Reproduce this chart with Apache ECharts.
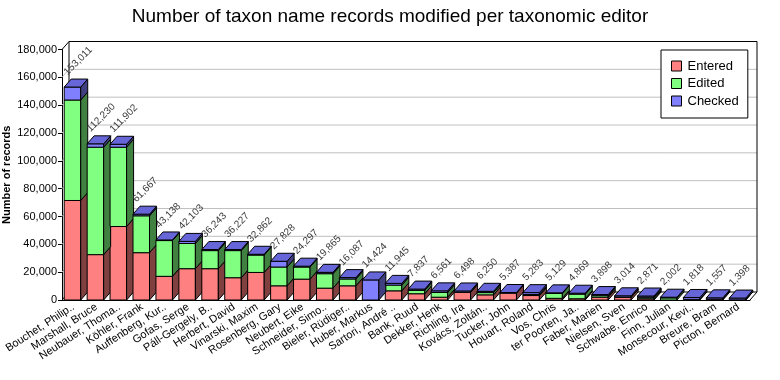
<!DOCTYPE html>
<html>
<head>
<meta charset="utf-8">
<script src="https://cdn.jsdelivr.net/npm/echarts@6/dist/echarts.min.js"></script>
<style>html,body{margin:0;padding:0;background:#fff}#c{width:780px;height:380px}</style>
</head>
<body>
<div id="c"></div>
<script>
const categories = ["Bouchet, Philip..","Marshall, Bruce","Neubauer, Thoma..","Köhler, Frank","Auffenberg, Kur..","Gofas, Serge","Páll-Gergely, B..","Herbert, David","Vinarski, Maxim","Rosenberg, Gary","Neubert, Eike","Schneider, Simo..","Bieler, Rüdiger..","Huber, Markus","Sartori, André ..","Bank, Ruud","Dekker, Henk","Richling, Ira","Kovács, Zoltán..","Tucker, John","Houart, Roland","Vos, Chris","ter Poorten, Ja..","Faber, Marien","Nielsen, Sven","Schwabe, Enrico","Finn, Julian","Monsecour, Kevi..","Breure, Bram","Picton, Bernard"];
const entered = [71500,32600,52800,34000,17000,22500,22500,16000,19800,10200,15000,8500,10200,0,6600,4500,2000,5500,3700,4900,3200,1200,900,2000,2000,900,0,500,600,100];
const edited  = [72200,77200,57000,26500,25700,18100,13000,19500,12500,13500,8700,10400,4900,0,4100,2400,3400,100,1600,0,700,3500,3300,1100,100,1100,1500,0,0,0];
const checked = [9311,2430,2102,1167,438,1503,743,727,562,4128,597,965,987,14424,1245,937,1161,898,950,487,1383,429,669,798,914,871,502,1318,957,1298];
const totals  = [153011,112230,111902,61667,43138,42103,36243,36227,32862,27828,24297,19865,16087,14424,11945,7837,6561,6498,6250,5387,5283,5129,4869,3898,3014,2871,2002,1818,1557,1398];
const yTicks  = [0,20000,40000,60000,80000,100000,120000,140000,160000,180000];

const FONT = '"Liberation Sans", Arial, sans-serif';
const DX = 7, DY = 8;
const segs = [
  {name:'Entered', vals: entered, front:'#FF8080', side:'#804040', top:'#CC6666'},
  {name:'Edited',  vals: edited,  front:'#80FF80', side:'#408040', top:'#66CC66'},
  {name:'Checked', vals: checked, front:'#8080FF', side:'#404080', top:'#6666D8'}
];
const fmt = v => v.toLocaleString('en-US');

function segSeries(k) {
  const s = segs[k];
  const data = categories.map((c, i) => {
    let base = 0;
    for (let j = 0; j < k; j++) base += segs[j].vals[i];
    return [i, base, base + s.vals[i]];
  });
  return {
    type: 'custom', name: s.name, clip: false,
    itemStyle: {color: s.front},
    data: data,
    renderItem: function (params, api) {
      const i = api.value(0), b = api.value(1), t = api.value(2);
      if (t <= b) return {type: 'group', children: []};
      const pb = api.coord([i, b]), pt = api.coord([i, t]);
      const w = api.size([1, 0])[0] * 0.72;
      const x0 = pb[0] - w / 2 - 1, x1 = x0 + w;
      const yb = pb[1], yt = pt[1];
      const st = {stroke: '#000', lineWidth: 1};
      const ch = [
        {type: 'rect', shape: {x: x0, y: yt, width: w, height: yb - yt}, style: Object.assign({fill: s.front}, st)},
        {type: 'polygon', shape: {points: [[x1, yb], [x1 + DX, yb - DY], [x1 + DX, yt - DY], [x1, yt]]}, style: Object.assign({fill: s.side}, st)}
      ];
      let isTop = true;
      for (let j = k + 1; j < segs.length; j++) if (segs[j].vals[i] > 0) isTop = false;
      if (isTop) {
        ch.push({type: 'polygon', shape: {points: [[x0, yt], [x1, yt], [x1 + DX, yt - DY], [x0 + DX, yt - DY]]}, style: Object.assign({fill: s.top}, st)});
        ch.push({type: 'text', x: x0 + 5, y: yt - DY - 2, rotation: Math.PI / 4,
          style: {text: fmt(totals[i]), fill: '#3a3a3a', font: '10px ' + FONT, align: 'left', verticalAlign: 'bottom'}});
      }
      return {type: 'group', children: ch};
    }
  };
}

const wallSeries = {
  type: 'custom', name: 'wall', clip: false, silent: true, legendHoverLink: false,
  data: yTicks.map(v => [0, v]),
  renderItem: function (params, api) {
    const cs = params.coordSys;
    const v = api.value(1);
    const y = api.coord([0, v])[1];
    const y0 = api.coord([0, 0])[1];
    const edge = (v === yTicks[0] || v === yTicks[yTicks.length - 1]);
    const col = edge ? '#000' : '#C0C0C0';
    const ch = [
      {type: 'line', shape: {x1: cs.x + DX, y1: y - DY, x2: cs.x + cs.width + DX, y2: y - DY}, style: {stroke: col, lineWidth: 1}},
      {type: 'line', shape: {x1: cs.x, y1: y, x2: cs.x + DX, y2: y - DY}, style: {stroke: col, lineWidth: 1}}
    ];
    if (v === yTicks[0]) {
      ch.push({type: 'line', shape: {x1: cs.x + cs.width, y1: y, x2: cs.x + cs.width + DX, y2: y - DY}, style: {stroke: '#000', lineWidth: 1}});
    }
    if (v === yTicks[yTicks.length - 1]) {
      ch.push({type: 'line', shape: {x1: cs.x + DX, y1: y - DY, x2: cs.x + DX, y2: y0 - DY}, style: {stroke: '#000', lineWidth: 1}});
      ch.push({type: 'line', shape: {x1: cs.x + cs.width + DX, y1: y - DY, x2: cs.x + cs.width + DX, y2: y0 - DY}, style: {stroke: '#000', lineWidth: 1}});
    }
    return {type: 'group', children: ch};
  }
};

const chart = echarts.init(document.getElementById('c'), null, {renderer: 'canvas'});
chart.setOption({
  animation: false,
  backgroundColor: '#fff',
  textStyle: {fontFamily: FONT},
  title: {text: 'Number of taxon name records modified per taxonomic editor', left: 'center', top: 2,
    textStyle: {fontSize: 19, fontWeight: 'normal', color: '#000', fontFamily: FONT}},
  legend: {
    data: segs.map(s => s.name), orient: 'vertical', left: 661, top: 50,
    padding: [9, 9, 10, 10], itemGap: 3.5, itemWidth: 10, itemHeight: 10, icon: 'rect',
    borderColor: '#000', borderWidth: 1, backgroundColor: '#fff',
    itemStyle: {borderColor: '#000', borderWidth: 1},
    textStyle: {fontSize: 13, color: '#000', lineHeight: 14, padding: [0, 0, 0, 1], fontFamily: FONT},
    selectedMode: false
  },
  grid: {left: 62, right: 30, top: 49.5, bottom: 80, containLabel: false, outerBoundsMode: 'none'},
  xAxis: {
    type: 'category', data: categories,
    axisLine: {lineStyle: {color: '#000'}},
    axisTick: {alignWithLabel: true, length: 4, lineStyle: {color: '#000'}},
    axisLabel: {interval: 0, rotate: 33, fontSize: 11, color: '#000', margin: 6, fontFamily: FONT, hideOverlap: false},
    splitLine: {show: false}
  },
  yAxis: {
    type: 'value', min: yTicks[0], max: yTicks[yTicks.length - 1], interval: yTicks[1] - yTicks[0],
    name: 'Number of records', nameLocation: 'middle', nameGap: 50, nameMoveOverlap: false,
    nameTextStyle: {fontSize: 11, fontWeight: 'bold', color: '#000', fontFamily: FONT},
    axisLine: {show: true, lineStyle: {color: '#000'}},
    axisTick: {show: true, length: 4, lineStyle: {color: '#000'}},
    axisLabel: {fontSize: 11, color: '#000', margin: 5, formatter: v => fmt(v), fontFamily: FONT},
    splitLine: {show: false}
  },
  series: [wallSeries, segSeries(0), segSeries(1), segSeries(2)]
});
</script>
</body>
</html>
